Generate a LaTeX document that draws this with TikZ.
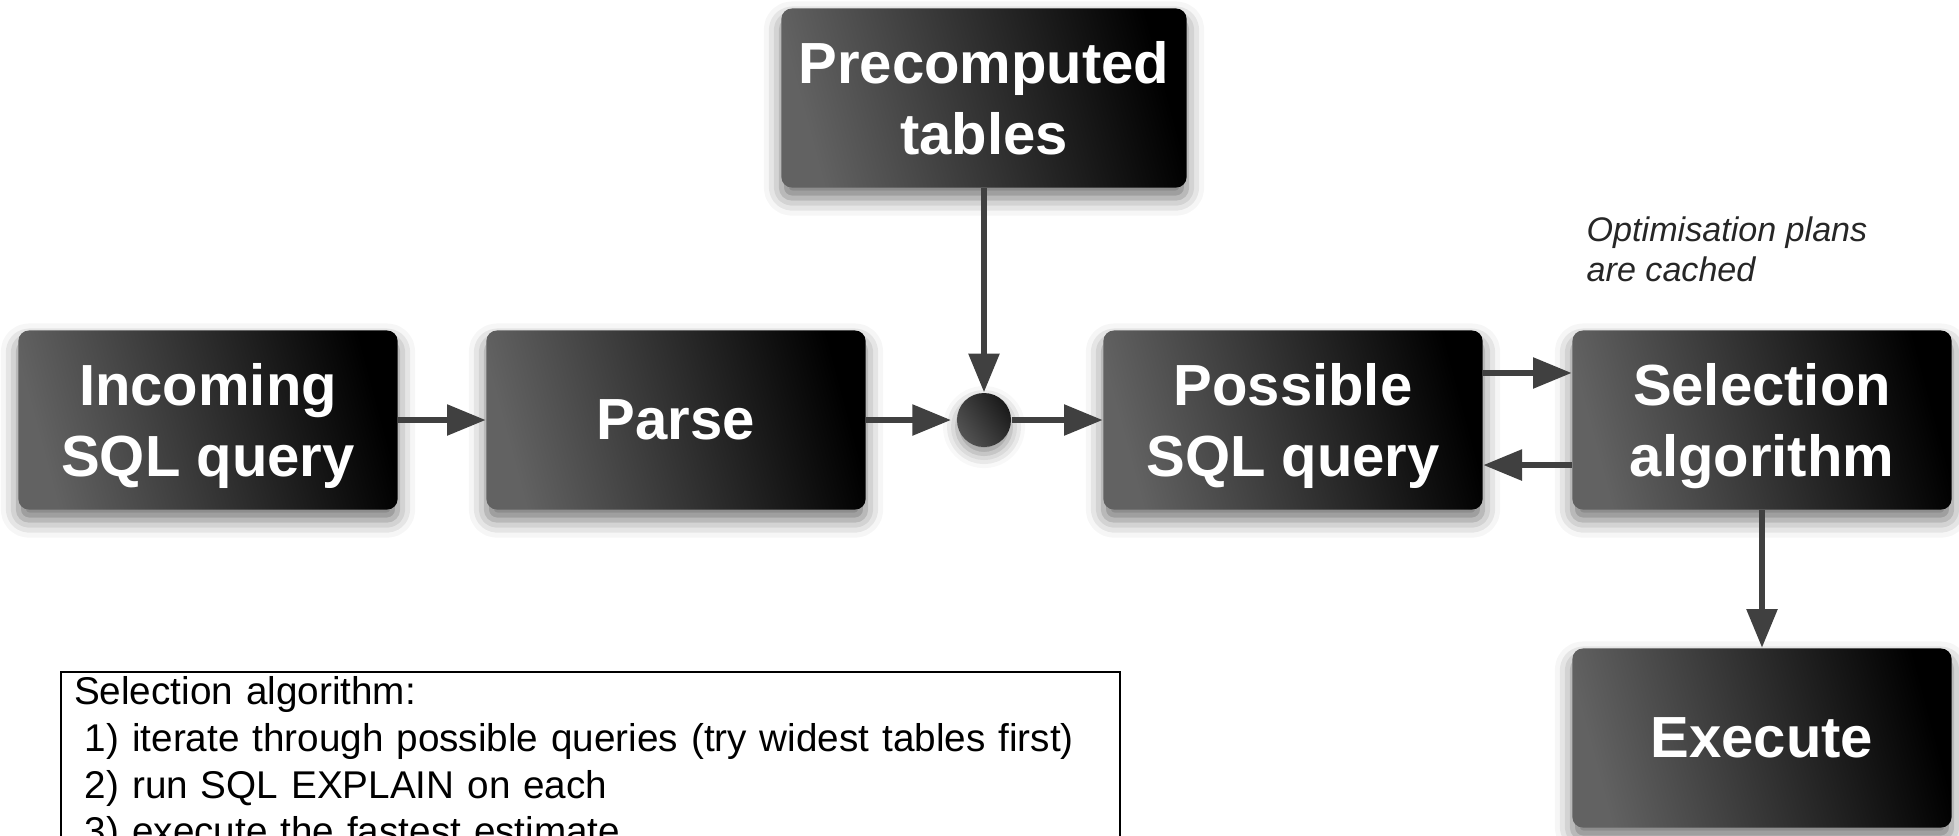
\documentclass[tikz,border=0pt]{standalone}
\usepackage{fontspec}
\setmainfont{Liberation Sans}
\usetikzlibrary{arrows.meta, shadows.blur}

\definecolor{boxgrey}{RGB}{98,98,98}
\definecolor{arrowgrey}{RGB}{64,64,64}

\begin{document}
\begin{tikzpicture}[x=0.01cm, y=-0.01cm,
  stage/.style={left color=boxgrey, right color=black, shading angle=105,
    rounded corners=3pt, minimum width=3.79cm, minimum height=1.79cm, text depth=0pt,
    text=white, align=center, font=\bfseries\fontsize{16.5}{20}\selectfont,
    blur shadow={shadow xshift=0pt, shadow yshift=-3pt, shadow blur radius=5pt, shadow opacity=55}},
  joint/.style={circle, minimum size=0.54cm, inner sep=0pt,
    left color=boxgrey!85!black, right color=black!90, shading angle=125,
    blur shadow={shadow xshift=0pt, shadow yshift=-2pt, shadow blur radius=4pt, shadow opacity=45}},
  flow/.style={-{Triangle[length=11pt, width=8.5pt]}, line width=1.7pt, arrowgrey},
  note/.style={font=\itshape\fontsize{9.7}{11.4}\selectfont, align=left, inner sep=0pt, text=black!85},
  legend/.style={draw, line width=0.6pt, anchor=north west, inner xsep=3.7pt, inner ysep=1.3pt,
    text width=10.32cm, align=left, font=\fontsize{11}{13.3}\selectfont}]

  % Fix the frame of the page
  \useasboundingbox (0,0) rectangle (1959,835);
  \clip (0,0) rectangle (1959,835);

  % Draw the stages of the query
  \node[stage] (incoming) at (208,420) {Incoming\\SQL query};
  \node[stage] (parse) at (676,420) {Parse};
  \node[joint] (join) at (984,420) {};
  \node[stage, minimum width=4.05cm] (precomp) at (984,98) {Precomputed\\tables};
  \node[stage] (possible) at (1293,420) {Possible\\SQL query};
  \node[stage] (select) at (1762,420) {Selection\\algorithm};
  \node[stage] (execute) at (1762,738) {Execute};

  % Note on the cache
  \node[note, anchor=north west] (cached) at (1586,216) {Optimisation plans\\are cached};

  % Draw the arrows
  \draw[flow] (incoming) -- (parse);
  \draw[flow, shorten >=1.5pt] (parse) -- (join);
  \draw[flow] (precomp) -- (join);
  \draw[flow] (join) -- (possible);
  \draw[flow] ([yshift=0.47cm]possible.east) -- ([yshift=0.47cm]select.west);
  \draw[flow] ([yshift=-0.45cm]select.west) -- ([yshift=-0.45cm]possible.east);
  \draw[flow] (select) -- (execute);

  % The steps of the selection
  \node[legend] (steps) at (60,671) {Selection algorithm:\\
    \hspace*{0.28em}1) iterate through possible queries (try widest tables first)\\
    \hspace*{0.28em}2) run SQL EXPLAIN on each\\
    \hspace*{0.28em}3) execute the fastest estimate};

\end{tikzpicture}
\end{document}
